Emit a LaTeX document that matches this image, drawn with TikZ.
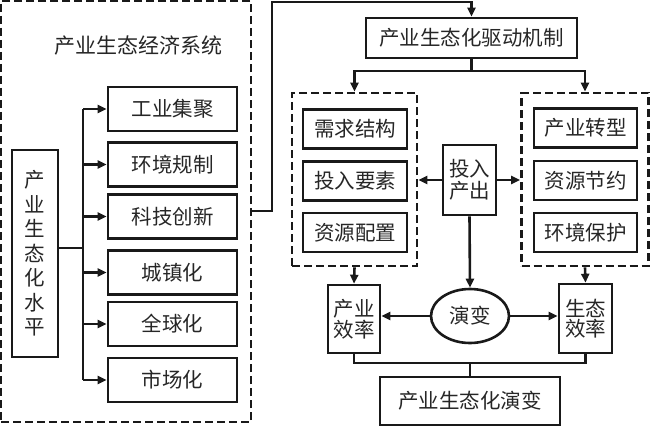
\documentclass[tikz,border=0pt]{standalone}
\usepackage{fontspec}
\setmainfont{Noto Sans CJK SC}
\usetikzlibrary{arrows.meta,shapes.geometric}
\begin{document}
\begin{tikzpicture}[x=1pt,y=-1pt,line width=2.6pt,color=black!90,
  txt/.style={font=\fontsize{20.5}{21}\selectfont,text=black!85},
  box/.style={draw,inner sep=0pt,align=center,txt},
  dbox/.style={draw,inner sep=0pt,dash pattern=on 8pt off 4pt},
  arr/.style={-{Triangle[length=9pt,width=8pt]}}]
\useasboundingbox (0,0) rectangle (650,428);
% left dashed frame
\node[dbox,minimum width=250,minimum height=421] (outer) at (126,211.5) {};
\node[txt,font=\fontsize{21}{21}\selectfont] (title) at (138,46) {产业生态经济系统};
\node[box,minimum width=46,minimum height=207,font=\fontsize{20.5}{24.5}\selectfont] (lv) at (35,253.5) {产\\业\\生\\态\\化\\水\\平};
\node[box,minimum width=129,minimum height=44] (b1) at (172.5,109) {工业集聚};
\node[box,minimum width=129,minimum height=44] (b2) at (172.5,164.5) {环境规制};
\node[box,minimum width=129,minimum height=44] (b3) at (172.5,216.5) {科技创新};
\node[box,minimum width=129,minimum height=44] (b4) at (172.5,272.5) {城镇化};
\node[box,minimum width=129,minimum height=44] (b5) at (172.5,324) {全球化};
\node[box,minimum width=129,minimum height=44] (b6) at (172.5,380) {市场化};
\coordinate (bus) at (83,248);
\draw (lv.east |- bus) -- (bus);
\draw (bus |- b1) -- (bus |- b6);
\foreach \b in {b1,b2,b3,b4,b5,b6} \draw[arr] (bus |- \b) -- (\b.west);
% right part
\node[box,minimum width=211,minimum height=40] (drv) at (471.5,38) {产业生态化驱动机制};
\coordinate (top) at (272,2);
\coordinate (out) at (251,211);
\draw[arr] (out) -- (top |- out) -- (top) -| (drv.north);
\node[dbox,minimum width=125,minimum height=173] (ld) at (354.5,179.5) {};
\node[dbox,minimum width=127,minimum height=173] (rd) at (585,179.5) {};
\coordinate (split) at (471.5,71);
\draw (drv.south) -- (split);
\draw[arr] (split) -| (ld.north);
\draw[arr] (split) -| (rd.north);
\node[box,minimum width=104,minimum height=39] (n1) at (355,129) {需求结构};
\node[box,minimum width=104,minimum height=39] (n2) at (355,181) {投入要素};
\node[box,minimum width=104,minimum height=39] (n3) at (355,232.5) {资源配置};
\node[box,minimum width=103,minimum height=39] (r1) at (585.5,128) {产业转型};
\node[box,minimum width=103,minimum height=39] (r2) at (585.5,180.5) {资源节约};
\node[box,minimum width=103,minimum height=39] (r3) at (585.5,232.5) {环境保护};
\node[box,minimum width=53,minimum height=70,font=\fontsize{20.5}{22}\selectfont] (io) at (469.5,180) {投入\\产出};
\draw[arr] (io.west) -- (ld.east |- io.west);
\draw[arr] (io.east) -- (rd.west |- io.east);
\node[draw,ellipse,inner sep=0pt,minimum width=78,minimum height=54,txt] (ev) at (470,316) {演变};
\draw[arr] (io.south) -- (ev.north);
\node[box,minimum width=52,minimum height=68,font=\fontsize{20.5}{20.5}\selectfont] (ie) at (354,319) {产业\\效率};
\node[box,minimum width=53,minimum height=69,font=\fontsize{20.5}{20.5}\selectfont] (ee) at (585.5,318.5) {生态\\效率};
\draw[arr] (ld.south) -- (ie.north);
\draw[arr] (rd.south) -- (ee.north);
\draw[arr] (ev.west) -- (ie.east |- ev.west);
\draw[arr] (ev.east) -- (ee.west |- ev.east);
\node[box,minimum width=180,minimum height=48] (fin) at (470,401) {产业生态化演变};
\coordinate (join) at (470,363);
\draw (ie.south) |- (join) -| (ee.south);
\draw (join) -- (fin.north);
\end{tikzpicture}
\end{document}
